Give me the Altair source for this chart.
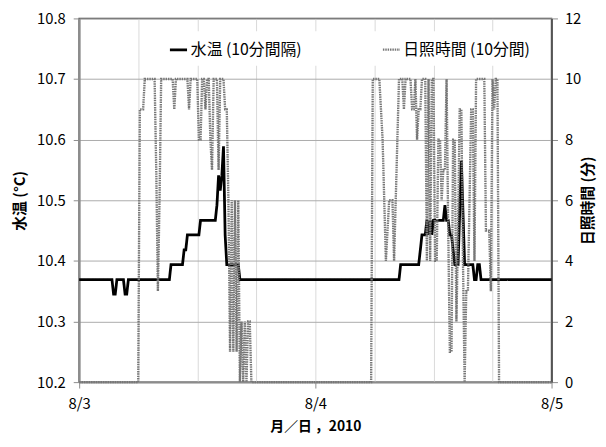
import altair as alt
import pandas as pd

FONT = "Noto Sans CJK JP"
S1 = "水温 (10分間隔)"
S2 = "日照時間 (10分間)"

# ---- data (10-minute steps from 8/3 00:00 to 8/5 00:00) ----
N_STEPS = 289

# water temperature as (value, number of consecutive 10-min readings)
temp_runs = [
    (10.369, 21), (10.345, 2), (10.369, 5), (10.345, 2), (10.369, 26),
    (10.394, 8), (10.418, 2), (10.443, 8), (10.467, 10),
    (10.492, 1), (10.541, 1), (10.516, 1), (10.541, 1), (10.589, 1), (10.443, 1),
    (10.394, 8), (10.369, 98),
    (10.394, 12), (10.418, 1), (10.443, 3),
    (10.467, 1), (10.443, 1), (10.467, 1), (10.443, 1), (10.467, 7),
    (10.492, 1), (10.467, 2), (10.443, 2), (10.418, 1), (10.394, 3),
    (10.48, 1), (10.565, 1), (10.48, 1),
    (10.394, 6), (10.369, 2), (10.394, 2), (10.369, 44),
]

# sunshine minutes per 10 min, daytime windows (zero elsewhere)
sun_day1_start = 36
sun_day1 = [0, 9, 9, 9, 10, 10, 10, 10, 10, 10, 10, 7, 3, 6,
            10, 10, 10, 10, 10, 10, 10, 10, 9, 10, 10, 10, 10, 10, 10, 10, 10, 9,
            10, 10, 10, 10, 10, 8, 8, 10, 10, 9, 10, 10, 8, 7, 10, 10, 10, 7,
            10, 10, 10, 9, 9, 6, 1, 6, 1, 6, 1, 6, 0, 2, 0, 2, 0, 2, 2, 0]
sun_day2_start = 177
sun_day2 = [0, 0, 10, 10, 10, 10, 10, 9, 8, 6, 4, 5, 6, 6, 6, 4, 6, 8,
            10, 10, 10, 9, 10, 10, 10, 10, 9, 9, 10, 8, 9, 9, 10, 10, 10,
            4, 10, 4, 10, 10, 4, 4, 8, 8, 6, 7, 7, 10, 5, 1, 1, 8, 8, 2, 5,
            9, 9, 4, 0, 3, 3, 6, 9, 9, 4, 10, 10, 10, 10, 10, 10, 5, 5, 5, 3,
            10, 9, 10, 10, 0]

x_grid_hours = [0, 6, 12, 18, 24, 30, 36, 42, 48]
x_label_hours = [0, 24, 48]
x_labels = ["8/3", "8/4", "8/5"]
y_left_ticks = [10.2, 10.3, 10.4, 10.5, 10.6, 10.7, 10.8]
y_right_ticks = [0, 2, 4, 6, 8, 10, 12]

# ---- build tables ----
temp = []
for v, n in temp_runs:
    temp += [v] * n
sun = [0] * N_STEPS
for k, v in enumerate(sun_day1):
    sun[sun_day1_start + k] = v
for k, v in enumerate(sun_day2):
    sun[sun_day2_start + k] = v
hours = [i / 6 for i in range(N_STEPS)]

df_t = pd.DataFrame({"h": hours, "val": temp, "series": S1})
df_s = pd.DataFrame({"h": hours, "val": sun, "series": S2})

label_expr = ""
for hv, lb in zip(x_label_hours, x_labels):
    label_expr += f"datum.value === {hv} ? '{lb}' : "
label_expr += "''"

legend = alt.Legend(
    title=None, orient="none", legendX=82, legendY=13, direction="horizontal",
    symbolType="stroke", symbolSize=300, labelFont=FONT, labelFontSize=16,
    labelColor="#000000", fillColor="white", padding=8, columnPadding=76,
    labelOffset=2,
)
color = alt.Color("series:N", scale=alt.Scale(domain=[S1, S2], range=["#000000", "#777777"]), legend=legend)
dash = alt.StrokeDash("series:N", scale=alt.Scale(domain=[S1, S2], range=[[1, 0], [1.5, 0.9]]), legend=legend)
swidth = alt.StrokeWidth("series:N", scale=alt.Scale(domain=[S1, S2], range=[2.8, 2.4]), legend=legend)

x_enc = alt.X(
    "h:Q",
    scale=alt.Scale(domain=[0, 48], nice=False, zero=False),
    axis=alt.Axis(
        values=x_grid_hours, labelExpr=label_expr, title="月／日 ，2010",
        grid=True, gridColor="#d9d9d9", gridWidth=1,
        domainColor="#8c8c8c", domainWidth=2, tickColor="#8c8c8c", tickSize=6,
        tickOpacity={"condition": {"test": "datum.value % 24 === 0", "value": 1}, "value": 0},
        labelFont=FONT, labelFontSize=15, labelColor="#000000", labelPadding=9,
        titleFont=FONT, titleFontSize=14, titleFontWeight="bold", titleColor="#000000",
        titlePadding=8, labelFlush=False,
    ),
)

temp_line = alt.Chart(df_t).mark_line(interpolate="linear").encode(
    x=x_enc,
    y=alt.Y(
        "val:Q",
        scale=alt.Scale(domain=[10.2, 10.8], nice=False, zero=False),
        axis=alt.Axis(
            orient="left", values=y_left_ticks, format=".1f", title="水温 (°C)",
            grid=True, gridColor="#ababab", gridWidth=1,
            domainColor="#8c8c8c", domainWidth=2, tickColor="#8c8c8c", tickSize=6,
            labelFont=FONT, labelFontSize=15, labelColor="#000000", labelPadding=8,
            titleFont=FONT, titleFontSize=15, titleFontWeight="bold", titleColor="#000000",
            titlePadding=9,
        ),
    ),
    color=color, strokeDash=dash, strokeWidth=swidth,
)

sun_line = alt.Chart(df_s).mark_line(interpolate="linear").encode(
    x=x_enc,
    y=alt.Y(
        "val:Q",
        scale=alt.Scale(domain=[0, 12], nice=False),
        axis=alt.Axis(
            orient="right", values=y_right_ticks, title="日照時間 (分)", grid=False,
            domainColor="#404040", domainWidth=1.5, tickColor="#8c8c8c", tickSize=6,
            labelFont=FONT, labelFontSize=15, labelColor="#000000", labelPadding=7,
            titleFont=FONT, titleFontSize=15, titleFontWeight="bold", titleColor="#000000",
            titleAngle=270, titlePadding=15,
        ),
    ),
    color=color, strokeDash=dash, strokeWidth=swidth,
)

chart = alt.layer(temp_line, sun_line).resolve_scale(y="independent").properties(
    width=478, height=368,
    padding={"left": 72, "top": 8, "right": 47, "bottom": 55},
    autosize="none",
    background="white",
).configure_view(stroke="#404040", strokeWidth=1.5)

chart.save("out.html", embed_options={"renderer": "svg", "actions": False})
